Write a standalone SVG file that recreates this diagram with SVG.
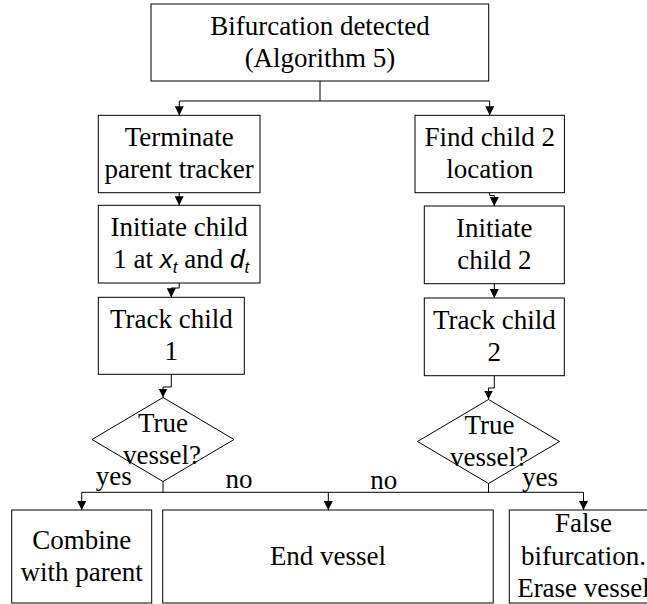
<svg xmlns="http://www.w3.org/2000/svg" width="647" height="604" viewBox="0 0 647 604">
<style>
.box{fill:#fff;stroke:#000;stroke-width:1}
.t{font-family:"Liberation Serif","Times New Roman",serif;font-size:27px;text-anchor:middle;fill:#000}
.i{font-family:"Liberation Sans",Arial,sans-serif;font-style:italic}
.c{fill:none;stroke:#000;stroke-width:1}
</style>
<defs>
<marker id="ah" markerUnits="userSpaceOnUse" markerWidth="9" markerHeight="9" refX="9" refY="4.5" orient="auto">
<path d="M0,0 L9,4.5 L0,9 Z" fill="#000"/>
</marker>
</defs>
<rect width="647" height="604" fill="#fff"/>
<g id="connectors">
<path class="c" d="M320,81 V101 H179.3 V115.3" marker-end="url(#ah)"/>
<path class="c" d="M320,101 H489.7 V115.3" marker-end="url(#ah)"/>
<path class="c" d="M179.2,192.7 V205.3" marker-end="url(#ah)"/>
<path class="c" d="M489.7,192.7 V195.5 H494.3 V206" marker-end="url(#ah)"/>
<path class="c" d="M179.2,283 V288 H171.3 V297.3" marker-end="url(#ah)"/>
<path class="c" d="M494.3,283.7 V298" marker-end="url(#ah)"/>
<path class="c" d="M171.3,374.3 V387 H163 V397.5" marker-end="url(#ah)"/>
<path class="c" d="M494.3,375.7 V388 H488.5 V399.5" marker-end="url(#ah)"/>
<path class="c" d="M163,481.5 V492.3 H81.7 V510" marker-end="url(#ah)"/>
<path class="c" d="M163,492.3 H583.5 V510" marker-end="url(#ah)"/>
<path class="c" d="M488.5,483.5 V492.3"/>
<path class="c" d="M328.3,492.3 V510" marker-end="url(#ah)"/>
</g>
<g id="bifurcation">
<rect class="box" x="151" y="4" width="337.7" height="77"/>
<text class="t" x="320" y="35">Bifurcation detected</text>
<text class="t" x="320" y="67">(Algorithm 5)</text>
</g>
<g id="terminate">
<rect class="box" x="98.3" y="115.3" width="161.7" height="77.4"/>
<text class="t" x="179.2" y="146">Terminate</text>
<text class="t" x="179.2" y="178">parent tracker</text>
</g>
<g id="find-child2">
<rect class="box" x="415" y="115.3" width="149.4" height="77.4"/>
<text class="t" x="489.7" y="146">Find child 2</text>
<text class="t" x="489.7" y="178">location</text>
</g>
<g id="init-child1">
<rect class="box" x="98.3" y="205.3" width="161.7" height="77.7"/>
<text class="t" x="179.2" y="236">Initiate child</text>
<text class="t" x="181.3" y="268">1 at <tspan class="i" font-size="26">x</tspan><tspan class="i" font-size="17" dy="5">t</tspan><tspan dy="-5"> and </tspan><tspan class="i" font-size="26">d</tspan><tspan class="i" font-size="17" dy="5">t</tspan></text>
</g>
<g id="init-child2">
<rect class="box" x="424.3" y="206" width="140" height="77.7"/>
<text class="t" x="494.3" y="237">Initiate</text>
<text class="t" x="494.3" y="269">child 2</text>
</g>
<g id="track-child1">
<rect class="box" x="98.3" y="297.3" width="146" height="77"/>
<text class="t" x="171.3" y="328">Track child</text>
<text class="t" x="171.3" y="360">1</text>
</g>
<g id="track-child2">
<rect class="box" x="424.3" y="298" width="140" height="77.7"/>
<text class="t" x="494.3" y="328.5">Track child</text>
<text class="t" x="494.3" y="361">2</text>
</g>
<g id="decision1">
<polygon class="box" points="163,397.5 234,439.5 163,481.5 92,439.5"/>
<text class="t" x="163" y="432">True</text>
<text class="t" x="162" y="464">vessel?</text>
</g>
<g id="decision2">
<polygon class="box" points="488.5,399.5 559.5,441.5 488.5,483.5 417.5,441.5"/>
<text class="t" x="489.5" y="433.5">True</text>
<text class="t" x="489" y="466">vessel?</text>
</g>
<g id="labels">
<text class="t" x="113.8" y="485">yes</text>
<text class="t" x="239" y="488">no</text>
<text class="t" x="383.7" y="488.5">no</text>
<text class="t" x="540" y="486">yes</text>
</g>
<g id="combine">
<rect class="box" x="11.7" y="510" width="140" height="93"/>
<text class="t" x="81.7" y="548.5">Combine</text>
<text class="t" x="81.7" y="580.5">with parent</text>
</g>
<g id="end-vessel">
<rect class="box" x="162.7" y="510" width="330.5" height="93"/>
<text class="t" x="328" y="564.5">End vessel</text>
</g>
<g id="false-bifurcation">
<rect class="box" x="509.3" y="510" width="148.4" height="93"/>
<text class="t" x="583.5" y="532">False</text>
<text class="t" x="583.5" y="565">bifurcation.</text>
<text class="t" x="583.5" y="597">Erase vessel</text>
</g>
</svg>
